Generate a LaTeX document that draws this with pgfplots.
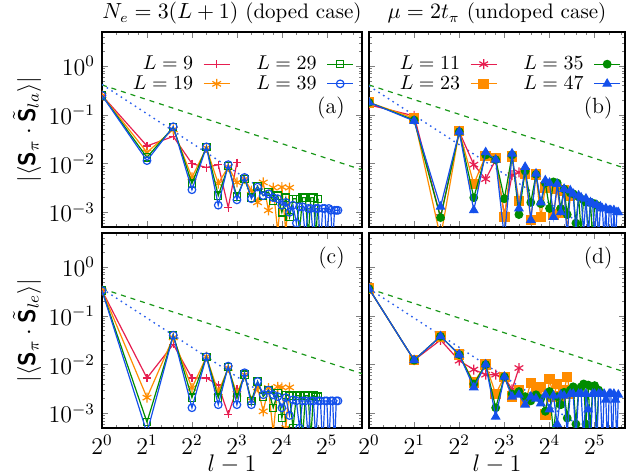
\documentclass[border=0pt]{standalone}
\usepackage{pgfplots}
\pgfplotsset{compat=1.18}
\usepackage{bm}

\definecolor{cRed}{RGB}{230,30,80}
\definecolor{cOrange}{RGB}{255,140,0}
\definecolor{cGreen}{RGB}{0,140,0}
\definecolor{cBlue}{RGB}{20,80,235}

\newcommand{\Sv}{\bm{\mathsf{S}}}

\pgfplotsset{
  every axis/.append style={
    scale only axis, height=97.5pt,
    xmin=1, ymin=5e-4, ymax=5,
    xtick={1,2,4,8,16,32},
    minor xtick={1.25,1.5,1.75,2.5,3,3.5,5,6,7,10,12,14,20,24,28,40,48},
    ytick={1e-3,1e-2,1e-1,1},
    minor ytick={6e-4,7e-4,8e-4,9e-4,2e-3,3e-3,4e-3,5e-3,6e-3,7e-3,8e-3,9e-3,
      0.02,0.03,0.04,0.05,0.06,0.07,0.08,0.09,0.2,0.3,0.4,0.5,0.6,0.7,0.8,0.9,2,3,4},
    major tick length=3pt, minor tick length=1.7pt,
    axis line style={line width=0.8pt},
    tick label style={font=\large},
    label style={font=\large},
    xlabel style={at={(0.5,0)}, anchor=base, yshift=-22pt},
    ylabel style={at={(0,0.5)}, anchor=center, yshift=37.5pt},
    title style={anchor=base, yshift=0.5pt, font=\fontsize{10.5}{12}\selectfont},
    clip marker paths=true,
  },
  sA/.style={cRed, line width=0.6pt, mark=+, mark size=2pt, mark options={solid}},
  sB/.style={cOrange, line width=0.6pt, mark=asterisk, mark size=2.5pt, mark options={solid}},
  sC/.style={cGreen, line width=0.6pt, mark=square, mark size=1.8pt, mark options={solid}},
  sD/.style={cBlue, line width=0.6pt, mark=o, mark size=1.9pt, mark options={solid}},
  tA/.style={cRed, line width=0.6pt, mark=asterisk, mark size=2.5pt, mark options={solid}},
  tB/.style={cOrange, line width=0.6pt, mark=square*, mark size=2.3pt, mark options={solid}},
  tC/.style={cGreen, line width=0.6pt, mark=*, mark size=1.9pt, mark options={solid}},
  tD/.style={cBlue, line width=0.6pt, mark=triangle*, mark size=2.3pt, mark options={solid}},
  gdash/.style={cGreen!90!white, line width=0.6pt, dash pattern=on 2.5pt off 2.5pt, no marks, forget plot},
  bdot/.style={cBlue!90!white, line width=0.7pt, dash pattern=on 0.8pt off 2pt, no marks, forget plot},
  leg/.style={
    legend columns=2, transpose legend,
    legend cell align=right, legend plot pos=right,
    legend image code/.code={\draw[mark repeat=2,mark phase=2] plot coordinates {(0pt,0pt) (6.5pt,0pt) (13pt,0pt)};},
    legend style={draw=none, fill=none, anchor=north east, inner sep=0pt, row sep=-0.5pt,
      nodes={inner sep=1pt},
      /tikz/every odd column/.append style={column sep=4pt},
      /tikz/every even column/.append style={column sep=12pt}},
  },
}

\begin{document}
\begin{tikzpicture}
\useasboundingbox (-51pt,-23.5pt) rectangle (262pt,214pt);

% (a) doped, S_la
\begin{axis}[at={(0pt,100.5pt)}, width=130pt, xmax=55,
  xmode=log, ymode=log,
  xticklabels={},
  ylabel={$|\langle \Sv_\pi\cdot\tilde{\Sv}_{la}\rangle|$},
  title={$N_e=3(L+1)$ (doped case)},
  leg, legend style={at={(0.97,0.89)}}]
\addplot[gdash] coordinates {(1,0.41) (64,0.0064)};
\addplot[bdot] coordinates {(1,0.42) (19,0.00116)};
\addplot[sA] coordinates {(1,0.25) (2,0.023) (3,0.036) (4,0.0100) (5,0.0083) (6,0.0095) (7,0.00125) (8,0.0105)};
\addlegendentry{$L=9$}
\addplot[sB] coordinates {(1,0.25) (2,0.017) (3,0.050) (4,0.0052) (5,0.021) (6,0.0039) (7,0.0085) (8,0.0041) (9,0.0048) (10,0.0028) (11,0.0016) (12,0.0041) (13,0.0011) (14,0.0032) (15,0.0004) (16,0.0033) (17,0.0004) (18,0.0032)};
\addlegendentry{$L=19$}
\addplot[sC] coordinates {(1,0.25) (2,0.0134) (3,0.056) (4,0.0039) (5,0.022) (6,0.0022) (7,0.0088) (8,0.0021) (9,0.0048) (10,0.0020) (11,0.0034) (12,0.0022) (13,0.0026) (14,0.0017) (15,0.0022) (16,0.0010) (17,0.0020) (18,0.0008) (19,0.0019) (20,0.0019) (21,0.0004) (22,0.0020) (23,0.0020) (24,0.0003) (25,0.0020) (26,0.0020) (27,0.0003) (28,0.0019)};
\addlegendentry{$L=29$}
\addplot[sD] coordinates {(1,0.25) (2,0.0115) (3,0.057) (4,0.0029) (5,0.022) (6,0.0014) (7,0.0095) (8,0.0018) (9,0.0052) (10,0.0019) (11,0.0033) (12,0.0022) (13,0.0024) (14,0.0020) (15,0.0019) (16,0.0014) (17,0.0016) (18,0.0010) (19,0.0014) (20,0.0006) (21,0.0013) (22,0.0013) (23,0.0003) (24,0.0012) (25,0.0012) (26,0.0003) (27,0.0012) (28,0.0012) (29,0.0002) (30,0.0012) (31,0.0012) (32,0.0002) (33,0.0012) (34,0.0011) (35,0.0002) (36,0.0011) (37,0.0011) (38,0.0011)};
\addlegendentry{$L=39$}
\node[anchor=east, inner sep=0pt, font=\fontsize{11}{13}\selectfont] at (rel axis cs:0.935,0.61) {(a)};
\end{axis}

% (b) undoped, S_la
\begin{axis}[at={(133.5pt,100.5pt)}, width=128pt, xmax=51,
  xmode=log, ymode=log,
  xticklabels={}, yticklabels={},
  title={$\mu=2t_\pi$ (undoped case)},
  leg, legend style={at={(0.985,0.89)}}]
\addplot[gdash] coordinates {(1,0.41) (64,0.0064)};
\addplot[bdot] coordinates {(1,0.39) (23,0.00074)};
\addplot[tA] coordinates {(1,0.16) (2,0.095) (3,0.0008) (4,0.045) (5,0.0095) (6,0.0048) (7,0.012) (8,0.0009) (9,0.0058) (10,0.0066)};
\addlegendentry{$L=11$}
\addplot[tB] coordinates {(1,0.18) (2,0.085) (3,0.0003) (4,0.046) (5,0.0038) (6,0.0145) (7,0.013) (8,0.0008) (9,0.014) (10,0.0017) (11,0.0062) (12,0.0007) (13,0.006) (14,0.0008) (15,0.0032) (16,0.0034) (17,0.0009) (18,0.0030) (19,0.0010) (20,0.0028) (21,0.0004) (22,0.0022)};
\addlegendentry{$L=23$}
\addplot[tC] coordinates {(1,0.18) (2,0.078) (3,0.00078) (4,0.045) (5,0.002) (6,0.015) (7,0.012) (8,0.0019) (9,0.015) (10,0.0009) (11,0.0070) (12,0.0016) (13,0.0060) (14,0.0015) (15,0.0040) (16,0.0012) (17,0.0042) (18,0.0040) (19,0.0012) (20,0.0030) (21,0.0009) (22,0.0025) (23,0.0024) (24,0.0006) (25,0.0021) (26,0.0004) (27,0.0018) (28,0.0016) (29,0.0004) (30,0.0016) (31,0.0003) (32,0.0015) (33,0.0014) (34,0.0003)};
\addlegendentry{$L=35$}
\addplot[tD] coordinates {(1,0.18) (2,0.075) (3,0.0013) (4,0.045) (5,0.0011) (6,0.017) (7,0.012) (8,0.0003) (9,0.016) (10,0.0012) (11,0.0085) (12,0.0007) (13,0.0062) (14,0.0016) (15,0.0045) (16,0.0040) (17,0.0008) (18,0.0038) (19,0.0010) (20,0.0030) (21,0.0003) (22,0.0028) (23,0.0024) (24,0.0004) (25,0.0022) (26,0.0020) (27,0.0004) (28,0.0019) (29,0.0003) (30,0.0016) (31,0.0015) (32,0.0003) (33,0.0014) (34,0.0003) (35,0.0013) (36,0.0012) (37,0.0003) (38,0.0012) (39,0.0002) (40,0.0011) (41,0.0011) (42,0.0002) (43,0.0011) (44,0.0002) (45,0.0010) (46,0.0010)};
\addlegendentry{$L=47$}
\node[anchor=east, inner sep=0pt, font=\fontsize{11}{13}\selectfont] at (rel axis cs:0.953,0.61) {(b)};
\end{axis}

% (c) doped, S_le
\begin{axis}[at={(0pt,0pt)}, width=130pt, xmax=55,
  xmode=log, ymode=log,
  xticklabels={$2^0$,$2^1$,$2^2$,$2^3$,$2^4$,$2^5$},
  xlabel={$l-1$},
  ylabel={$|\langle \Sv_\pi\cdot\tilde{\Sv}_{le}\rangle|$}]
\addplot[gdash] coordinates {(1,0.36) (64,0.0056)};
\addplot[bdot] coordinates {(1,0.36) (19,0.001)};
\addplot[sA] coordinates {(1,0.33) (2,0.0053) (3,0.026) (4,0.0053) (5,0.0053) (6,0.0038) (7,0.00095) (8,0.0032)};
\addplot[sB] coordinates {(1,0.33) (2,0.0021) (3,0.036) (4,0.0033) (5,0.0145) (6,0.0027) (7,0.0085) (8,0.0025) (9,0.0062) (10,0.0018) (11,0.0034) (12,0.0011) (13,0.0033) (14,0.0004) (15,0.0035) (16,0.0034) (17,0.0005) (18,0.0034)};
\addplot[sC] coordinates {(1,0.33) (2,0.00066) (3,0.04) (4,0.0021) (5,0.0145) (6,0.0021) (7,0.0089) (8,0.0021) (9,0.0062) (10,0.0018) (11,0.0045) (12,0.0022) (13,0.0030) (14,0.0013) (15,0.0026) (16,0.0008) (17,0.0024) (18,0.0023) (19,0.0005) (20,0.0023) (21,0.0023) (22,0.0003) (23,0.0023) (24,0.0023) (25,0.0003) (26,0.0023) (27,0.0022) (28,0.0022)};
\addplot[sD] coordinates {(1,0.33) (2,0.0004) (3,0.04) (4,0.0013) (5,0.0145) (6,0.0015) (7,0.0093) (8,0.0015) (9,0.0068) (10,0.0015) (11,0.0045) (12,0.0024) (13,0.0030) (14,0.0024) (15,0.0022) (16,0.0013) (17,0.0021) (18,0.0009) (19,0.0019) (20,0.0018) (21,0.0005) (22,0.0018) (23,0.0018) (24,0.0003) (25,0.0018) (26,0.0018) (27,0.0003) (28,0.0018) (29,0.0018) (30,0.0002) (31,0.0018) (32,0.0018) (33,0.0002) (34,0.0018) (35,0.0018) (36,0.0002) (37,0.0018) (38,0.0018)};
\node[anchor=east, inner sep=0pt, font=\fontsize{11}{13}\selectfont] at (rel axis cs:0.935,0.87) {(c)};
\end{axis}

% (d) undoped, S_le
\begin{axis}[at={(133.5pt,0pt)}, width=128pt, xmax=51,
  xmode=log, ymode=log,
  xticklabels={$2^0$,$2^1$,$2^2$,$2^3$,$2^4$,$2^5$},
  yticklabels={},
  xlabel={$l-1$}]
\addplot[gdash] coordinates {(1,0.36) (64,0.0056)};
\addplot[bdot] coordinates {(1,0.36) (23,0.00068)};
\addplot[tA] coordinates {(1,0.36) (2,0.0123) (3,0.032) (4,0.012) (5,0.0079) (6,0.0062) (7,0.0062) (8,0.0055) (9,0.0031) (10,0.0085)};
\addplot[tB] coordinates {(1,0.36) (2,0.0123) (3,0.038) (4,0.016) (5,0.0043) (6,0.010) (7,0.0025) (8,0.0056) (9,0.0022) (10,0.0030) (11,0.0017) (12,0.0042) (13,0.0030) (14,0.0035) (15,0.00095) (16,0.0050) (17,0.0022) (18,0.0040) (19,0.0020) (20,0.0030) (21,0.0055) (22,0.0025)};
\addplot[tC] coordinates {(1,0.36) (2,0.0123) (3,0.038) (4,0.016) (5,0.0040) (6,0.010) (7,0.0013) (8,0.0056) (9,0.0025) (10,0.0028) (11,0.0022) (12,0.0018) (13,0.0024) (14,0.0020) (15,0.0011) (16,0.0028) (17,0.0004) (18,0.0022) (19,0.0015) (20,0.0027) (21,0.0008) (22,0.0030) (23,0.0035) (24,0.0006) (25,0.0030) (26,0.0035) (27,0.0040) (28,0.0006) (29,0.0038) (30,0.0004) (31,0.0035) (32,0.0037) (33,0.0004) (34,0.0030)};
\addplot[tD] coordinates {(1,0.36) (2,0.0123) (3,0.038) (4,0.016) (5,0.0034) (6,0.010) (7,0.00085) (8,0.0056) (9,0.0022) (10,0.0024) (11,0.0015) (12,0.0022) (13,0.0020) (14,0.0016) (15,0.0024) (16,0.0012) (17,0.0023) (18,0.0006) (19,0.0024) (20,0.0023) (21,0.0004) (22,0.0025) (23,0.0025) (24,0.0003) (25,0.0025) (26,0.0025) (27,0.0003) (28,0.0025) (29,0.0012) (30,0.0002) (31,0.0025) (32,0.0025) (33,0.0002) (34,0.0025) (35,0.0025) (36,0.0002) (37,0.0025) (38,0.0019) (39,0.0002) (40,0.0025) (41,0.0025) (42,0.0002) (43,0.0025) (44,0.0019) (45,0.0002) (46,0.0024)};
\node[anchor=east, inner sep=0pt, font=\fontsize{11}{13}\selectfont] at (rel axis cs:0.953,0.87) {(d)};
\end{axis}
\end{tikzpicture}
\end{document}
